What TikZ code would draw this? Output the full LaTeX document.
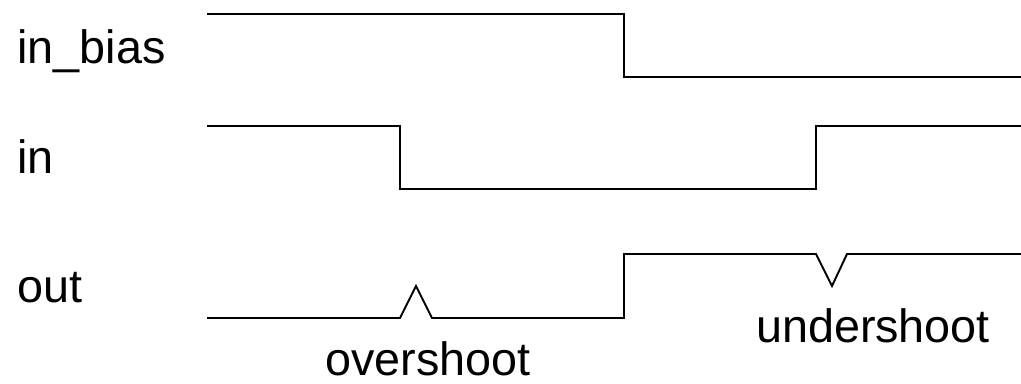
\documentclass[tikz,border=0pt]{standalone}
\usepackage{fontspec}
\setmainfont{Liberation Sans}
\usepackage{tikz}
\usetikzlibrary{positioning}
\tikzset{
  signal/.style={font=\fontsize{26.6}{32}\selectfont, inner sep=0pt, anchor=base west},
  note/.style={font=\fontsize{26.6}{32}\selectfont, inner sep=0pt, anchor=base},
  wave/.style={line width=1.1pt, line join=miter}
}

\begin{document}
\begin{tikzpicture}[x=0.02cm, y=-0.02cm]
\useasboundingbox (0,0) rectangle (1021,383);
\node[signal] (lbias) at (17,63) {in\_bias};
\node[signal] (lin) at (17,173) {in};
\node[signal] (lout) at (17,302) {out};

% waveforms
\draw[wave] (207,14) -- (624,14) -- (624,77) -- (1021,77);
\draw[wave] (207,126) -- (400,126) -- (400,189) -- (816,189) -- (816,126) -- (1021,126);
\draw[wave] (207,318) -- (400,318) -- (416,286) -- (432,318) -- (624,318)
  -- (624,254) -- (816,254) -- (832,286) -- (847,254) -- (1021,254);

\node[note] (over) at (428,375) {overshoot};
\node[note] (under) at (873,342) {undershoot};
\end{tikzpicture}
\end{document}
